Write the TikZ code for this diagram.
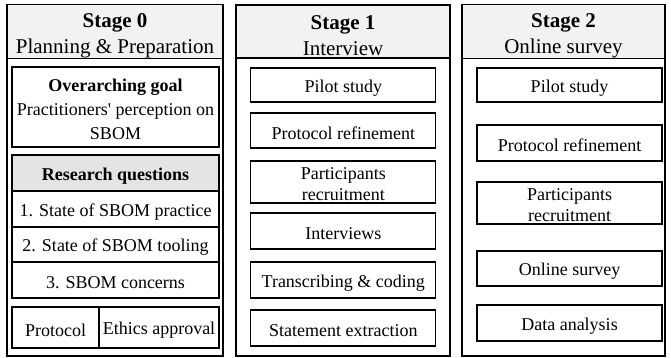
\documentclass[tikz,border=0pt]{standalone}
\usepackage{fontspec}
\setmainfont{Liberation Serif}
\definecolor{headgray}{HTML}{F2F2F2}
\definecolor{rqgray}{HTML}{E4E4E4}
\begin{document}
\begin{tikzpicture}[x=1pt,y=-1pt,
  panel/.style={draw=black, line width=1.2pt, inner sep=0pt},
  head/.style={draw=black, line width=1.2pt, fill=headgray, inner sep=0pt, align=center,
    font=\fontsize{21}{26.5}\selectfont},
  box/.style={draw=black, line width=1.3pt, inner sep=0pt, align=center,
    font=\fontsize{18}{22}\selectfont, execute at begin node={\rule{0pt}{18pt}}},
  twoline/.style={draw=black, line width=1.3pt, inner sep=0pt, align=center,
    font=\fontsize{18}{21.5}\selectfont},
  rqhead/.style={box, fill=rqgray, font=\fontsize{18}{22}\selectfont\bfseries},
  goalbox/.style={draw=black, line width=1.3pt, inner sep=0pt, align=center,
    font=\fontsize{18}{24}\selectfont},
]
\useasboundingbox[fill=white] (0,0) rectangle (671,358);

% Panels
\node[panel, minimum width=216, minimum height=351] (p0) at (115,180.5) {};
\node[panel, minimum width=214, minimum height=351] (p1) at (343,180.5) {};
\node[panel, minimum width=203, minimum height=351] (p2) at (563.5,180.5) {};

\node[head, minimum width=216, minimum height=53] (h0) at (115,31.5) {\rule{0pt}{22.3pt}\textbf{Stage 0}\\Planning \& Preparation};
\node[head, minimum width=214, minimum height=53] (h1) at (343,31.5) {\rule{0pt}{22.3pt}\textbf{Stage 1}\\Interview};
\node[head, minimum width=203, minimum height=53] (h2) at (563.5,31.5) {\rule{0pt}{22.3pt}\textbf{Stage 2}\\Online survey};

% Stage 0
\node[goalbox, minimum width=207, minimum height=80] (goal) at (115.5,107) {\rule{0pt}{16.5pt}\textbf{Overarching goal}\\Practitioners\textquotesingle{} perception on\\SBOM};
\node[rqhead, minimum width=207, minimum height=36] (rq) at (115.5,173) {Research questions};
\node[box, minimum width=207, minimum height=36] (rq1) at (115.5,209) {1. State of SBOM practice};
\node[box, minimum width=207, minimum height=35] (rq2) at (115.5,244.5) {2. State of SBOM tooling};
\node[box, minimum width=207, minimum height=36] (rq3) at (115.5,280) {3. SBOM concerns};
\node[box, minimum width=87, minimum height=41] (proto) at (55.5,327.5) {Protocol};
\node[box, minimum width=120, minimum height=41] (ethics) at (159,327.5) {Ethics approval};

% Stage 1
\node[box, minimum width=185, minimum height=34] (s1a) at (343.3,85) {Pilot study};
\node[box, minimum width=185, minimum height=35] (s1b) at (343.3,130.5) {Protocol refinement};
\node[twoline, minimum width=185, minimum height=42] (s1c) at (343.3,182) {\rule{0pt}{16pt}Participants\\recruitment};
\node[box, minimum width=185, minimum height=36] (s1d) at (343.3,231) {Interviews};
\node[box, minimum width=185, minimum height=36] (s1e) at (343.3,280) {Transcribing \& coding};
\node[box, minimum width=185, minimum height=36] (s1f) at (343.3,328) {Statement extraction};

% Stage 2
\node[box, minimum width=185, minimum height=34] (s2a) at (569.5,85) {Pilot study};
\node[box, minimum width=185, minimum height=36] (s2b) at (569.5,143) {Protocol refinement};
\node[twoline, minimum width=185, minimum height=42] (s2c) at (569.5,203) {\rule{0pt}{16pt}Participants\\recruitment};
\node[box, minimum width=185, minimum height=35] (s2d) at (569.5,268.5) {Online survey};
\node[box, minimum width=185, minimum height=36] (s2e) at (569.5,323) {Data analysis};
\end{tikzpicture}
\end{document}
